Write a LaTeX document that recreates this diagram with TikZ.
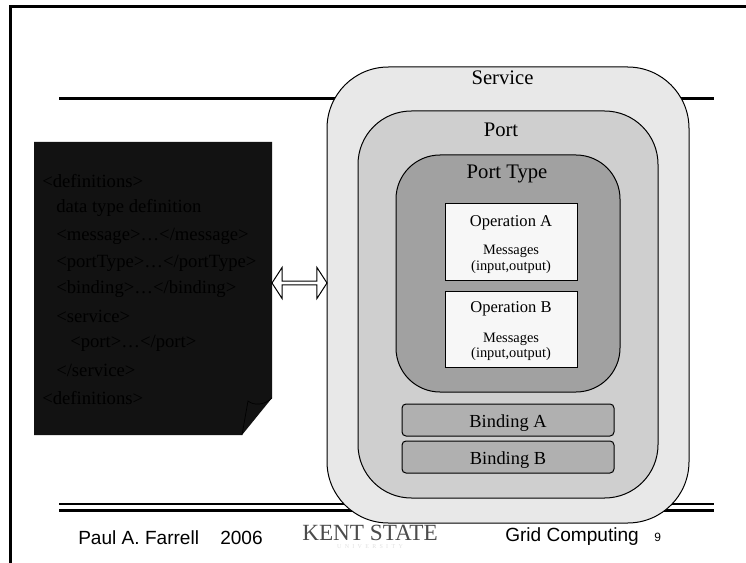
\documentclass[tikz,border=0pt]{standalone}
\usepackage{fontspec}
\usepackage{color}
\usetikzlibrary{shapes.arrows}
\setmainfont{Liberation Serif}
\setsansfont{Liberation Sans}
\newfontfamily\logofont[LetterSpace=55]{Liberation Serif}
\tikzset{
  rule/.style={black,line width=2.2pt},
  shell/.style={draw=black,line width=0.75pt,inner sep=0pt,outer sep=0pt},
  opbox/.style={shell,fill=black!3,minimum width=99pt,minimum height=57pt},
  bindbox/.style={shell,fill=black!31,rounded corners=3pt,minimum width=159pt,minimum height=24pt},
  title/.style={font=\fontsize{15.5}{15.5}\selectfont},
  optitle/.style={font=\fontsize{12.4}{12.4}\selectfont},
  msgline/.style={font=\fontsize{10.8}{10.8}\selectfont},
  bindtitle/.style={font=\fontsize{13.8}{13.8}\selectfont},
  docline/.style={anchor=west,text=black,font=\fontsize{14}{14}\selectfont},
  foot/.style={anchor=west,font=\sffamily\fontsize{14.3}{14.3}\selectfont}
}
\begin{document}
\begin{tikzpicture}[x=0.75pt,y=0.75pt]
              \tikzstyle{every node}+=[inner sep=0pt]
              \useasboundingbox (0,0) rectangle (746,-563);
              % slide frame and rules
              \coordinate (framebl) at (10.5,-563);
              \coordinate (frametl) at (10.5,-6.5);
              \coordinate (frametr) at (746,-6.5);
              \draw [black,line width=2pt] (framebl) -- (frametl) -- (frametr);
              \coordinate (ruleal) at (59,-98.5);
              \coordinate (ruleat) at (713.5,-98.5);
              \coordinate (rulebl) at (59,-504);
              \coordinate (rulebr) at (713.5,-504);
              \coordinate (rulecl) at (59,-510.5);
              \coordinate (rulecr) at (713.5,-510.5);
              \draw [rule] (ruleal) -- (ruleat);
              \draw [rule,line width=1.5pt] (rulebl) -- (rulebr);
              \draw [rule] (rulecl) -- (rulecr);
              % document sheet
              \fill [black!93] (34,-142) -- (272,-142) -- (272,-398) -- (242,-435) -- (34,-435) -- cycle;
              \draw [black,line width=0.5pt] (242,-435) -- (248,-401) .. controls (254,-406) and (265,-405) .. (272,-398);
              \node [docline] (defopen) at (42,-181) {<definitions>};
              \node [docline] (datatype) at (56,-208) {data type definition};
              \node [docline] (message) at (56,-236) {<message>…</message>};
              \node [docline] (porttype) at (56,-263) {<portType>…</portType>};
              \node [docline] (binding) at (56,-289) {<binding>…</binding>};
              \node [docline] (serviceopen) at (56,-316) {<service>};
              \node [docline] (portline) at (70,-343) {<port>…</port>};
              \node [docline] (serviceclose) at (56,-370) {</service>};
              \node [docline] (defclose) at (42,-398) {<definitions>};
              % nested boxes
              \node [shell,fill=black!9,rounded corners=46pt,minimum width=271.5pt,minimum height=342pt] (service) at (508,-295) {};
              \node [shell,fill=black!19,rounded corners=40pt,minimum width=225pt,minimum height=290.25pt] (port) at (508,-304.5) {};
              \node [shell,fill=black!37,rounded corners=33pt,minimum width=168pt,minimum height=177.75pt] (ptype) at (508,-273.5) {};
              \node [opbox] (opa) at (511,-242) {};
              \node [opbox] (opb) at (511,-329.5) {};
              \node [bindbox] (binda) at (508,-420) {};
              \node [bindbox] (bindb) at (508,-457) {};
              \node [title] (servicetitle) at (502.5,-78) {Service};
              \node [title] (porttitle) at (501,-130) {Port};
              \node [title] (ptypetitle) at (507,-174) {Port Type};
              \node [optitle] (opatitle) at (511,-223) {Operation A};
              \node [msgline] (opamsg) at (511,-251) {Messages};
              \node [msgline] (opaio) at (511,-267) {(input,output)};
              \node [optitle] (opbtitle) at (511,-309) {Operation B};
              \node [msgline] (opbmsg) at (511,-339) {Messages};
              \node [msgline] (opbio) at (511,-354) {(input,output)};
              \node [bindtitle] (bindatitle) at (508,-423) {Binding A};
              \node [bindtitle] (bindbtitle) at (508,-460) {Binding B};
              % link between sheet and service
              \node [draw=black,line width=0.75pt,fill=white,double arrow,double arrow tip angle=114,double arrow head extend=2.7pt,minimum height=41.25pt,minimum width=23.25pt] (link) at (299.5,-283) {};
              % footer
              \node [foot] (author) at (78,-538) {Paul A. Farrell};
              \node [foot] (year) at (220,-538) {2006};
              \node [foot] (course) at (505,-537) {Grid Computing};
              \node [foot,font=\sffamily\fontsize{9}{9}\selectfont] (pagenum) at (654,-537) {9};
              \node [text=black!70,font=\fontsize{17.4}{17.4}\selectfont] (kent) at (370,-533) {KENT STATE};
              \node [text=black!12,font=\logofont\fontsize{4.5}{4.5}\selectfont] (kentuni) at (370,-547) {UNIVERSITY};
            \end{tikzpicture}
\end{document}
